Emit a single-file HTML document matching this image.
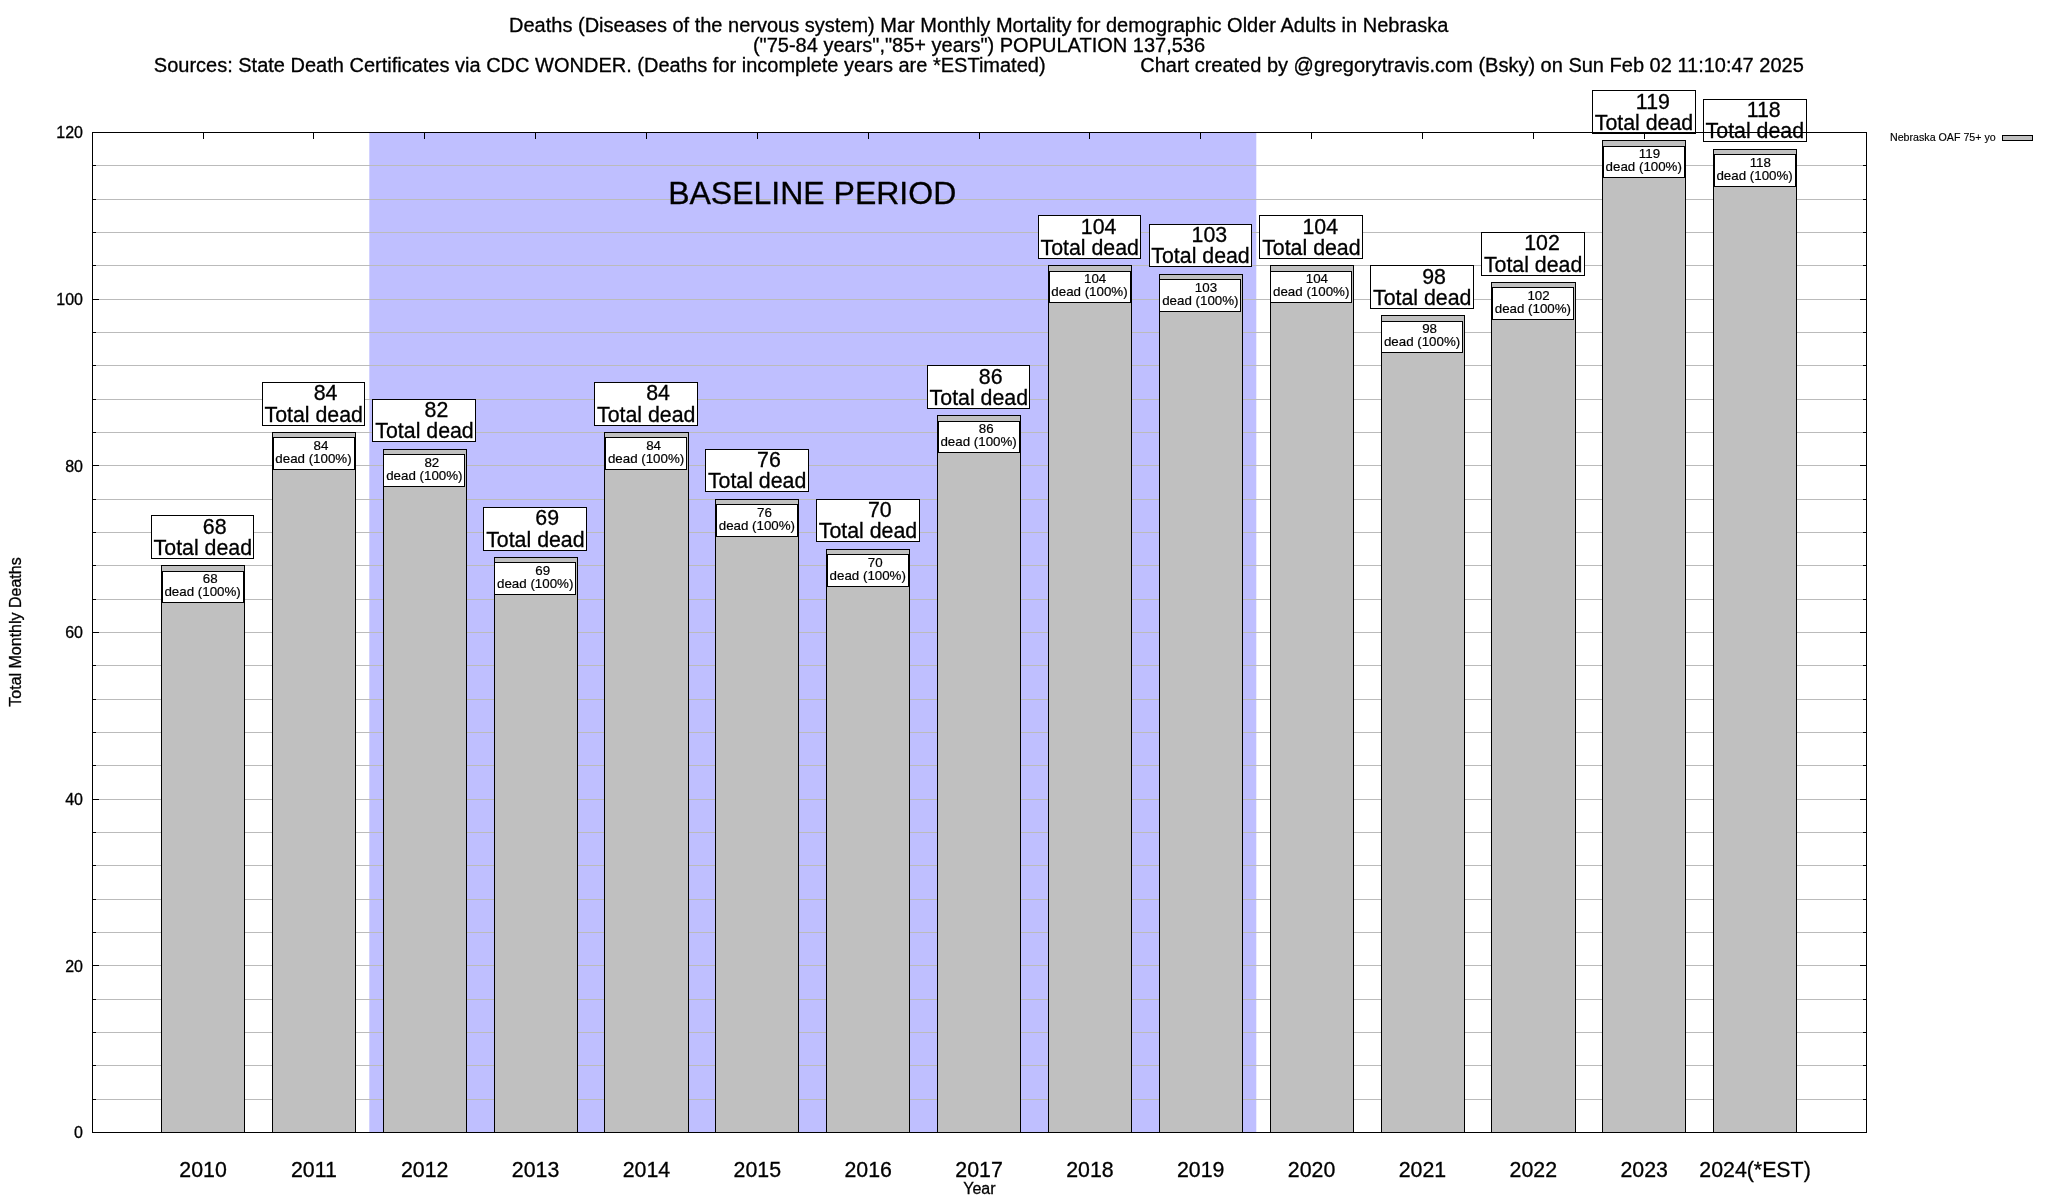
<!DOCTYPE html>
<html><head><meta charset="utf-8"><title>chart</title>
<style>
html,body{margin:0;padding:0;background:#fff;}
body{width:2048px;height:1200px;overflow:hidden;position:relative;}
svg{display:block;position:absolute;left:0;top:0;will-change:transform;}
text{font-family:"Liberation Sans",sans-serif;fill:#000;white-space:pre;stroke:#000;stroke-width:0.3px;}
.t20{font-size:20px}
.t21{font-size:21.333px}
.t16{font-size:16px}
.t13{font-size:13.333px;stroke-width:0.2px}
.t10{font-size:10.667px;stroke-width:0.15px}
.t32{font-size:32px}
.m{text-anchor:middle}
.e{text-anchor:end}
</style></head><body>
<svg width="2048" height="1200" viewBox="0 0 2048 1200">
<rect x="0" y="0" width="2048" height="1200" fill="#fff"/>
<rect x="369.3" y="132" width="887" height="1001" fill="#bfbfff"/>
<g stroke="#bbbbbb" stroke-width="1" shape-rendering="crispEdges">
<line x1="93" x2="1866" y1="1099.5" y2="1099.5"/>
<line x1="93" x2="1866" y1="1065.5" y2="1065.5"/>
<line x1="93" x2="1866" y1="1032.5" y2="1032.5"/>
<line x1="93" x2="1866" y1="999.5" y2="999.5"/>
<line x1="93" x2="1866" y1="965.5" y2="965.5"/>
<line x1="93" x2="1866" y1="932.5" y2="932.5"/>
<line x1="93" x2="1866" y1="899.5" y2="899.5"/>
<line x1="93" x2="1866" y1="865.5" y2="865.5"/>
<line x1="93" x2="1866" y1="832.5" y2="832.5"/>
<line x1="93" x2="1866" y1="799.5" y2="799.5"/>
<line x1="93" x2="1866" y1="765.5" y2="765.5"/>
<line x1="93" x2="1866" y1="732.5" y2="732.5"/>
<line x1="93" x2="1866" y1="699.5" y2="699.5"/>
<line x1="93" x2="1866" y1="665.5" y2="665.5"/>
<line x1="93" x2="1866" y1="632.5" y2="632.5"/>
<line x1="93" x2="1866" y1="599.5" y2="599.5"/>
<line x1="93" x2="1866" y1="565.5" y2="565.5"/>
<line x1="93" x2="1866" y1="532.5" y2="532.5"/>
<line x1="93" x2="1866" y1="499.5" y2="499.5"/>
<line x1="93" x2="1866" y1="465.5" y2="465.5"/>
<line x1="93" x2="1866" y1="432.5" y2="432.5"/>
<line x1="93" x2="1866" y1="399.5" y2="399.5"/>
<line x1="93" x2="1866" y1="365.5" y2="365.5"/>
<line x1="93" x2="1866" y1="332.5" y2="332.5"/>
<line x1="93" x2="1866" y1="299.5" y2="299.5"/>
<line x1="93" x2="1866" y1="265.5" y2="265.5"/>
<line x1="93" x2="1866" y1="232.5" y2="232.5"/>
<line x1="93" x2="1866" y1="199.5" y2="199.5"/>
<line x1="93" x2="1866" y1="165.5" y2="165.5"/>
</g>
<g stroke="#000" stroke-width="1" fill="none" shape-rendering="crispEdges">
<line x1="93" x2="99" y1="1132.5" y2="1132.5"/>
<line x1="1860" x2="1866" y1="1132.5" y2="1132.5"/>
<line x1="93" x2="96" y1="1099.5" y2="1099.5"/>
<line x1="1863" x2="1866" y1="1099.5" y2="1099.5"/>
<line x1="93" x2="96" y1="1065.5" y2="1065.5"/>
<line x1="1863" x2="1866" y1="1065.5" y2="1065.5"/>
<line x1="93" x2="96" y1="1032.5" y2="1032.5"/>
<line x1="1863" x2="1866" y1="1032.5" y2="1032.5"/>
<line x1="93" x2="96" y1="999.5" y2="999.5"/>
<line x1="1863" x2="1866" y1="999.5" y2="999.5"/>
<line x1="93" x2="99" y1="965.5" y2="965.5"/>
<line x1="1860" x2="1866" y1="965.5" y2="965.5"/>
<line x1="93" x2="96" y1="932.5" y2="932.5"/>
<line x1="1863" x2="1866" y1="932.5" y2="932.5"/>
<line x1="93" x2="96" y1="899.5" y2="899.5"/>
<line x1="1863" x2="1866" y1="899.5" y2="899.5"/>
<line x1="93" x2="96" y1="865.5" y2="865.5"/>
<line x1="1863" x2="1866" y1="865.5" y2="865.5"/>
<line x1="93" x2="96" y1="832.5" y2="832.5"/>
<line x1="1863" x2="1866" y1="832.5" y2="832.5"/>
<line x1="93" x2="99" y1="799.5" y2="799.5"/>
<line x1="1860" x2="1866" y1="799.5" y2="799.5"/>
<line x1="93" x2="96" y1="765.5" y2="765.5"/>
<line x1="1863" x2="1866" y1="765.5" y2="765.5"/>
<line x1="93" x2="96" y1="732.5" y2="732.5"/>
<line x1="1863" x2="1866" y1="732.5" y2="732.5"/>
<line x1="93" x2="96" y1="699.5" y2="699.5"/>
<line x1="1863" x2="1866" y1="699.5" y2="699.5"/>
<line x1="93" x2="96" y1="665.5" y2="665.5"/>
<line x1="1863" x2="1866" y1="665.5" y2="665.5"/>
<line x1="93" x2="99" y1="632.5" y2="632.5"/>
<line x1="1860" x2="1866" y1="632.5" y2="632.5"/>
<line x1="93" x2="96" y1="599.5" y2="599.5"/>
<line x1="1863" x2="1866" y1="599.5" y2="599.5"/>
<line x1="93" x2="96" y1="565.5" y2="565.5"/>
<line x1="1863" x2="1866" y1="565.5" y2="565.5"/>
<line x1="93" x2="96" y1="532.5" y2="532.5"/>
<line x1="1863" x2="1866" y1="532.5" y2="532.5"/>
<line x1="93" x2="96" y1="499.5" y2="499.5"/>
<line x1="1863" x2="1866" y1="499.5" y2="499.5"/>
<line x1="93" x2="99" y1="465.5" y2="465.5"/>
<line x1="1860" x2="1866" y1="465.5" y2="465.5"/>
<line x1="93" x2="96" y1="432.5" y2="432.5"/>
<line x1="1863" x2="1866" y1="432.5" y2="432.5"/>
<line x1="93" x2="96" y1="399.5" y2="399.5"/>
<line x1="1863" x2="1866" y1="399.5" y2="399.5"/>
<line x1="93" x2="96" y1="365.5" y2="365.5"/>
<line x1="1863" x2="1866" y1="365.5" y2="365.5"/>
<line x1="93" x2="96" y1="332.5" y2="332.5"/>
<line x1="1863" x2="1866" y1="332.5" y2="332.5"/>
<line x1="93" x2="99" y1="299.5" y2="299.5"/>
<line x1="1860" x2="1866" y1="299.5" y2="299.5"/>
<line x1="93" x2="96" y1="265.5" y2="265.5"/>
<line x1="1863" x2="1866" y1="265.5" y2="265.5"/>
<line x1="93" x2="96" y1="232.5" y2="232.5"/>
<line x1="1863" x2="1866" y1="232.5" y2="232.5"/>
<line x1="93" x2="96" y1="199.5" y2="199.5"/>
<line x1="1863" x2="1866" y1="199.5" y2="199.5"/>
<line x1="93" x2="96" y1="165.5" y2="165.5"/>
<line x1="1863" x2="1866" y1="165.5" y2="165.5"/>
<line x1="93" x2="99" y1="132.5" y2="132.5"/>
<line x1="1860" x2="1866" y1="132.5" y2="132.5"/>
<line x1="203.5" x2="203.5" y1="133" y2="139"/>
<line x1="313.5" x2="313.5" y1="133" y2="139"/>
<line x1="424.5" x2="424.5" y1="133" y2="139"/>
<line x1="535.5" x2="535.5" y1="133" y2="139"/>
<line x1="646.5" x2="646.5" y1="133" y2="139"/>
<line x1="757.5" x2="757.5" y1="133" y2="139"/>
<line x1="868.5" x2="868.5" y1="133" y2="139"/>
<line x1="979.5" x2="979.5" y1="133" y2="139"/>
<line x1="1089.5" x2="1089.5" y1="133" y2="139"/>
<line x1="1200.5" x2="1200.5" y1="133" y2="139"/>
<line x1="1311.5" x2="1311.5" y1="133" y2="139"/>
<line x1="1422.5" x2="1422.5" y1="133" y2="139"/>
<line x1="1533.5" x2="1533.5" y1="133" y2="139"/>
<line x1="1644.5" x2="1644.5" y1="133" y2="139"/>
<line x1="1755.5" x2="1755.5" y1="133" y2="139"/>
</g>
<g fill="#c0c0c0" stroke="#000" stroke-width="1">
<rect x="161.5" y="565.5" width="83" height="567"/>
<rect x="272.5" y="432.5" width="83" height="700"/>
<rect x="383.5" y="449.5" width="83" height="683"/>
<rect x="494.5" y="557.5" width="83" height="575"/>
<rect x="604.5" y="432.5" width="84" height="700"/>
<rect x="715.5" y="499.5" width="83" height="633"/>
<rect x="826.5" y="549.5" width="83" height="583"/>
<rect x="937.5" y="415.5" width="83" height="717"/>
<rect x="1048.5" y="265.5" width="83" height="867"/>
<rect x="1159.5" y="274.5" width="83" height="858"/>
<rect x="1270.5" y="265.5" width="83" height="867"/>
<rect x="1381.5" y="315.5" width="83" height="817"/>
<rect x="1491.5" y="282.5" width="84" height="850"/>
<rect x="1602.5" y="140.5" width="83" height="992"/>
<rect x="1713.5" y="149.5" width="83" height="983"/>
</g>
<rect x="151.5" y="515.5" width="102" height="43" fill="#fff" stroke="#000" stroke-width="1"/>
<text class="t21 m" x="202.83" y="533.63" xml:space="preserve">    68</text>
<text class="t21 m" x="202.83" y="555.03">Total dead</text>
<rect x="162.5" y="571.5" width="81" height="31" fill="#fff" stroke="#000" stroke-width="1"/>
<text class="t13 m" x="202.73" y="583.23" xml:space="preserve">    68</text>
<text class="t13 m" x="202.63" y="596.33">dead (100%)</text>
<rect x="262.5" y="382.5" width="102" height="43" fill="#fff" stroke="#000" stroke-width="1"/>
<text class="t21 m" x="313.69" y="400.30" xml:space="preserve">    84</text>
<text class="t21 m" x="313.69" y="421.70">Total dead</text>
<rect x="273.5" y="437.5" width="81" height="32" fill="#fff" stroke="#000" stroke-width="1"/>
<text class="t13 m" x="313.59" y="449.90" xml:space="preserve">    84</text>
<text class="t13 m" x="313.49" y="463.00">dead (100%)</text>
<rect x="372.5" y="399.5" width="103" height="42" fill="#fff" stroke="#000" stroke-width="1"/>
<text class="t21 m" x="424.54" y="416.97" xml:space="preserve">    82</text>
<text class="t21 m" x="424.54" y="438.37">Total dead</text>
<rect x="383.5" y="454.5" width="81" height="32" fill="#fff" stroke="#000" stroke-width="1"/>
<text class="t13 m" x="424.44" y="466.57" xml:space="preserve">    82</text>
<text class="t13 m" x="424.34" y="479.67">dead (100%)</text>
<rect x="483.5" y="507.5" width="103" height="43" fill="#fff" stroke="#000" stroke-width="1"/>
<text class="t21 m" x="535.40" y="525.30" xml:space="preserve">    69</text>
<text class="t21 m" x="535.40" y="546.70">Total dead</text>
<rect x="494.5" y="562.5" width="81" height="32" fill="#fff" stroke="#000" stroke-width="1"/>
<text class="t13 m" x="535.30" y="574.90" xml:space="preserve">    69</text>
<text class="t13 m" x="535.20" y="588.00">dead (100%)</text>
<rect x="594.5" y="382.5" width="103" height="43" fill="#fff" stroke="#000" stroke-width="1"/>
<text class="t21 m" x="646.26" y="400.30" xml:space="preserve">    84</text>
<text class="t21 m" x="646.26" y="421.70">Total dead</text>
<rect x="605.5" y="437.5" width="81" height="32" fill="#fff" stroke="#000" stroke-width="1"/>
<text class="t13 m" x="646.16" y="449.90" xml:space="preserve">    84</text>
<text class="t13 m" x="646.06" y="463.00">dead (100%)</text>
<rect x="705.5" y="449.5" width="103" height="42" fill="#fff" stroke="#000" stroke-width="1"/>
<text class="t21 m" x="757.12" y="466.97" xml:space="preserve">    76</text>
<text class="t21 m" x="757.12" y="488.37">Total dead</text>
<rect x="716.5" y="504.5" width="81" height="32" fill="#fff" stroke="#000" stroke-width="1"/>
<text class="t13 m" x="757.01" y="516.57" xml:space="preserve">    76</text>
<text class="t13 m" x="756.91" y="529.67">dead (100%)</text>
<rect x="816.5" y="499.5" width="103" height="42" fill="#fff" stroke="#000" stroke-width="1"/>
<text class="t21 m" x="867.97" y="516.97" xml:space="preserve">    70</text>
<text class="t21 m" x="867.97" y="538.37">Total dead</text>
<rect x="827.5" y="554.5" width="81" height="32" fill="#fff" stroke="#000" stroke-width="1"/>
<text class="t13 m" x="867.87" y="566.57" xml:space="preserve">    70</text>
<text class="t13 m" x="867.77" y="579.67">dead (100%)</text>
<rect x="927.5" y="365.5" width="102" height="43" fill="#fff" stroke="#000" stroke-width="1"/>
<text class="t21 m" x="978.83" y="383.63" xml:space="preserve">    86</text>
<text class="t21 m" x="978.83" y="405.03">Total dead</text>
<rect x="938.5" y="421.5" width="81" height="31" fill="#fff" stroke="#000" stroke-width="1"/>
<text class="t13 m" x="978.73" y="433.23" xml:space="preserve">    86</text>
<text class="t13 m" x="978.63" y="446.33">dead (100%)</text>
<rect x="1038.5" y="215.5" width="102" height="43" fill="#fff" stroke="#000" stroke-width="1"/>
<text class="t21 m" x="1089.69" y="233.63" xml:space="preserve">   104</text>
<text class="t21 m" x="1089.69" y="255.03">Total dead</text>
<rect x="1049.5" y="271.5" width="81" height="31" fill="#fff" stroke="#000" stroke-width="1"/>
<text class="t13 m" x="1089.59" y="283.23" xml:space="preserve">   104</text>
<text class="t13 m" x="1089.49" y="296.33">dead (100%)</text>
<rect x="1149.5" y="224.5" width="102" height="42" fill="#fff" stroke="#000" stroke-width="1"/>
<text class="t21 m" x="1200.54" y="241.97" xml:space="preserve">   103</text>
<text class="t21 m" x="1200.54" y="263.37">Total dead</text>
<rect x="1159.5" y="279.5" width="81" height="32" fill="#fff" stroke="#000" stroke-width="1"/>
<text class="t13 m" x="1200.44" y="291.57" xml:space="preserve">   103</text>
<text class="t13 m" x="1200.34" y="304.67">dead (100%)</text>
<rect x="1259.5" y="215.5" width="103" height="43" fill="#fff" stroke="#000" stroke-width="1"/>
<text class="t21 m" x="1311.40" y="233.63" xml:space="preserve">   104</text>
<text class="t21 m" x="1311.40" y="255.03">Total dead</text>
<rect x="1270.5" y="271.5" width="81" height="31" fill="#fff" stroke="#000" stroke-width="1"/>
<text class="t13 m" x="1311.30" y="283.23" xml:space="preserve">   104</text>
<text class="t13 m" x="1311.20" y="296.33">dead (100%)</text>
<rect x="1370.5" y="265.5" width="103" height="43" fill="#fff" stroke="#000" stroke-width="1"/>
<text class="t21 m" x="1422.26" y="283.63" xml:space="preserve">    98</text>
<text class="t21 m" x="1422.26" y="305.03">Total dead</text>
<rect x="1381.5" y="321.5" width="81" height="31" fill="#fff" stroke="#000" stroke-width="1"/>
<text class="t13 m" x="1422.16" y="333.23" xml:space="preserve">    98</text>
<text class="t13 m" x="1422.06" y="346.33">dead (100%)</text>
<rect x="1481.5" y="232.5" width="103" height="43" fill="#fff" stroke="#000" stroke-width="1"/>
<text class="t21 m" x="1533.11" y="250.30" xml:space="preserve">   102</text>
<text class="t21 m" x="1533.11" y="271.70">Total dead</text>
<rect x="1492.5" y="287.5" width="81" height="32" fill="#fff" stroke="#000" stroke-width="1"/>
<text class="t13 m" x="1533.01" y="299.90" xml:space="preserve">   102</text>
<text class="t13 m" x="1532.91" y="313.00">dead (100%)</text>
<rect x="1592.5" y="90.5" width="103" height="43" fill="#fff" stroke="#000" stroke-width="1"/>
<text class="t21 m" x="1643.97" y="108.63" xml:space="preserve">   119</text>
<text class="t21 m" x="1643.97" y="130.03">Total dead</text>
<rect x="1603.5" y="146.5" width="81" height="31" fill="#fff" stroke="#000" stroke-width="1"/>
<text class="t13 m" x="1643.87" y="158.23" xml:space="preserve">   119</text>
<text class="t13 m" x="1643.77" y="171.33">dead (100%)</text>
<rect x="1703.5" y="99.5" width="103" height="42" fill="#fff" stroke="#000" stroke-width="1"/>
<text class="t21 m" x="1754.83" y="116.97" xml:space="preserve">   118</text>
<text class="t21 m" x="1754.83" y="138.37">Total dead</text>
<rect x="1714.5" y="154.5" width="81" height="32" fill="#fff" stroke="#000" stroke-width="1"/>
<text class="t13 m" x="1754.73" y="166.57" xml:space="preserve">   118</text>
<text class="t13 m" x="1754.63" y="179.67">dead (100%)</text>
<g stroke="#000" stroke-width="1" fill="none" shape-rendering="crispEdges">
<rect x="92.5" y="132.5" width="1774" height="1000"/>
</g>
<text class="t16 e" x="83.0" y="1138.40">0</text>
<text class="t16 e" x="83.0" y="971.73">20</text>
<text class="t16 e" x="83.0" y="805.07">40</text>
<text class="t16 e" x="83.0" y="638.40">60</text>
<text class="t16 e" x="83.0" y="471.73">80</text>
<text class="t16 e" x="83.0" y="305.07">100</text>
<text class="t16 e" x="83.0" y="138.40">120</text>
<text class="t21 m" x="203.03" y="1177.2">2010</text>
<text class="t21 m" x="313.89" y="1177.2">2011</text>
<text class="t21 m" x="424.74" y="1177.2">2012</text>
<text class="t21 m" x="535.60" y="1177.2">2013</text>
<text class="t21 m" x="646.46" y="1177.2">2014</text>
<text class="t21 m" x="757.31" y="1177.2">2015</text>
<text class="t21 m" x="868.17" y="1177.2">2016</text>
<text class="t21 m" x="979.03" y="1177.2">2017</text>
<text class="t21 m" x="1089.89" y="1177.2">2018</text>
<text class="t21 m" x="1200.74" y="1177.2">2019</text>
<text class="t21 m" x="1311.60" y="1177.2">2020</text>
<text class="t21 m" x="1422.46" y="1177.2">2021</text>
<text class="t21 m" x="1533.31" y="1177.2">2022</text>
<text class="t21 m" x="1644.17" y="1177.2">2023</text>
<text class="t21 m" x="1755.03" y="1177.2">2024(*EST)</text>
<text class="t16 m" x="979.4" y="1193.8">Year</text>
<text class="t16 m" transform="translate(21,632) rotate(-90)">Total Monthly Deaths</text>
<text class="t20 m" x="978.7" y="32.1">Deaths (Diseases of the nervous system) Mar Monthly Mortality for demographic Older Adults in Nebraska</text>
<text class="t20 m" x="979" y="52">("75-84 years","85+ years") POPULATION 137,536</text>
<text class="t20" x="153.8" y="71.6">Sources: State Death Certificates via CDC WONDER. (Deaths for incomplete years are *ESTimated)</text>
<text class="t20" x="1140.2" y="71.6">Chart created by @gregorytravis.com (Bsky) on Sun Feb 02 11:10:47 2025</text>
<text class="t32 m" x="812.2" y="203.9">BASELINE PERIOD</text>
<text class="t10" x="1890.0" y="140.6">Nebraska OAF 75+ yo</text>
<rect x="2002.5" y="135.5" width="30" height="5" fill="#c0c0c0" stroke="#000" stroke-width="1"/>
</svg></body></html>
